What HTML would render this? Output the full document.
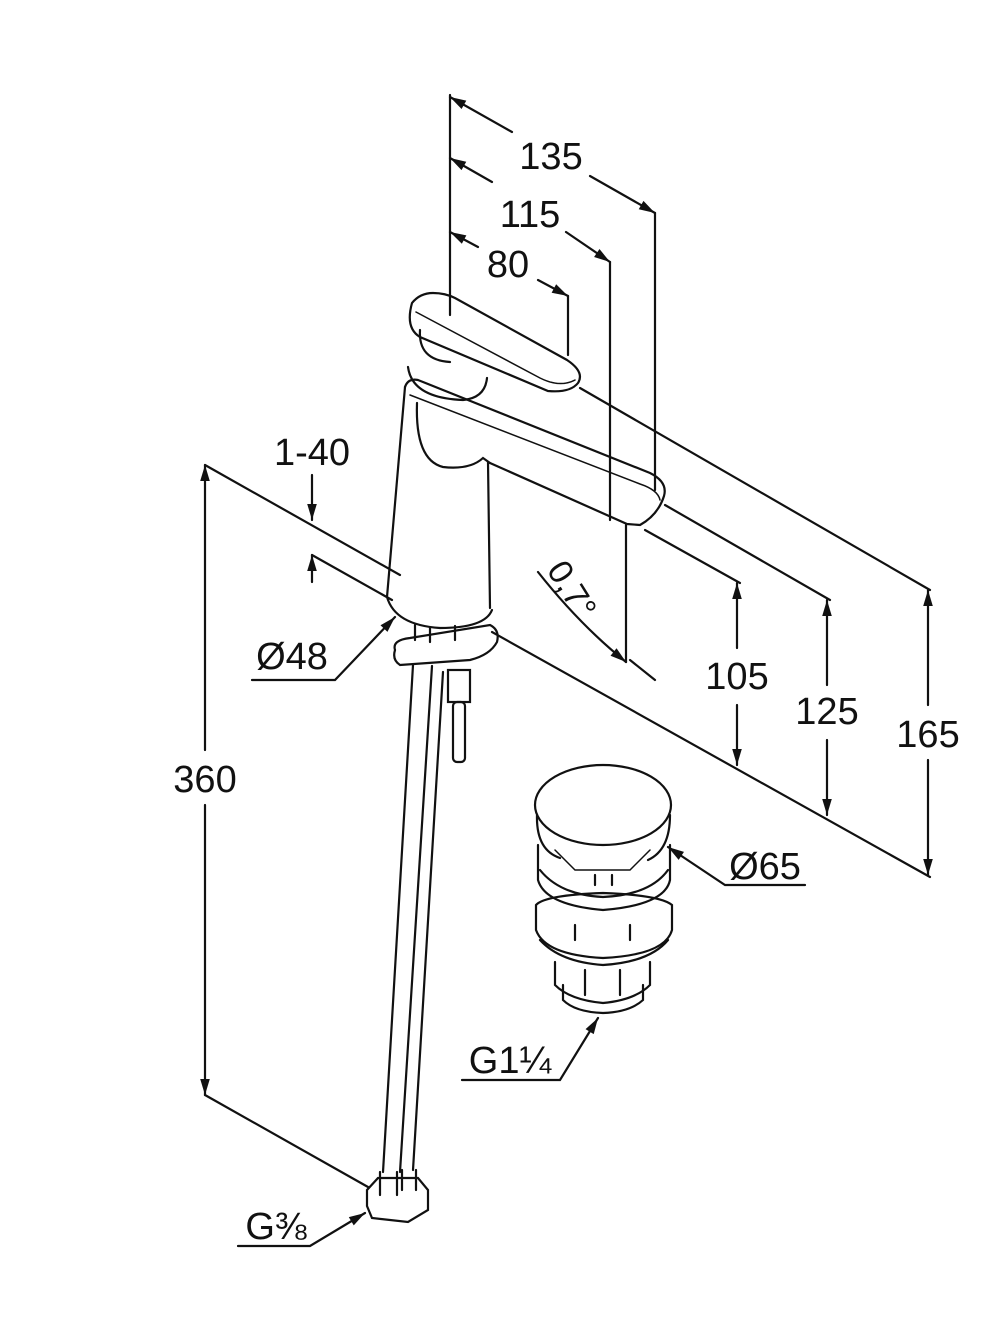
<!DOCTYPE html>
<html><head><meta charset="utf-8"><style>
html,body{margin:0;padding:0;background:#fff}
svg{display:block}
text{font-family:"Liberation Sans",sans-serif;fill:#111}
</style></head><body>
<svg width="1000" height="1333" viewBox="0 0 1000 1333" xmlns="http://www.w3.org/2000/svg">
<defs>
<marker id="b" viewBox="0 0 10 10" refX="10" refY="5" markerWidth="26" markerHeight="16" markerUnits="userSpaceOnUse" orient="auto-start-reverse"><path d="M0,2 L10,5 L0,8 Z" fill="#111"/></marker>
</defs>
<g stroke="#111" stroke-width="2.2" fill="none" stroke-linecap="round">
<line x1="450" y1="95" x2="450" y2="315"/>
<line x1="655" y1="213" x2="655" y2="490"/>
<line x1="610" y1="262" x2="610" y2="520"/>
<line x1="568" y1="296" x2="568" y2="355"/>
<line x1="626" y1="525" x2="626" y2="662"/>
<path d="M450,97 L512,132 M590,176 L655,213" marker-start="url(#b)" marker-end="url(#b)"/>
<path d="M450,158 L492,182 M566,232 L610,262" marker-start="url(#b)" marker-end="url(#b)"/>
<path d="M450,232 L478,247 M538,280 L568,296" marker-start="url(#b)" marker-end="url(#b)"/>
<line x1="580" y1="388" x2="930" y2="590"/>
<line x1="665" y1="505" x2="830" y2="600"/>
<line x1="645" y1="530" x2="740" y2="583"/>
<line x1="492" y1="632" x2="930" y2="877"/>
<line x1="630" y1="660" x2="655" y2="680"/>
<path d="M737,583 L737,648 M737,705 L737,765" marker-start="url(#b)" marker-end="url(#b)"/>
<path d="M827,600 L827,685 M827,740 L827,815" marker-start="url(#b)" marker-end="url(#b)"/>
<path d="M928,590 L928,705 M928,760 L928,875" marker-start="url(#b)" marker-end="url(#b)"/>
<path d="M538,572 Q580,625 626,662" marker-end="url(#b)"/>
<path d="M205,465 L205,750 M205,805 L205,1095" marker-start="url(#b)" marker-end="url(#b)"/>
<line x1="205" y1="465" x2="400" y2="575"/>
<line x1="205" y1="1095" x2="368" y2="1187"/>
<path d="M312,475 L312,520" marker-end="url(#b)"/>
<path d="M312,582 L312,555" marker-end="url(#b)"/>
<line x1="312" y1="555" x2="392" y2="600"/>
<path d="M252,680 L335,680 L395,617" marker-end="url(#b)"/>
<path d="M412,303 Q420,293 433,293 Q445,293 455,298 L567,360 Q585,372 578,383 Q570,393 548,391 L420,337 Q405,328 412,303 Z"/>
<path d="M416,312 L540,378 Q560,388 575,380" stroke-width="1.5"/>
<path d="M408,367 Q412,398 463,400 Q485,398 487,378"/>
<path d="M420,330 Q418,360 450,362"/>
<path d="M405,387 Q408,378 418,380 L650,473 Q668,482 664,496 Q658,515 640,525 L627,524 L490,463"/>
<path d="M410,395 L640,484 Q658,490 660,500" stroke-width="1.5"/>
<path d="M417,403 Q415,460 443,467 Q470,470 483,458 L490,463"/>
<line x1="405" y1="387" x2="387" y2="597"/>
<line x1="488" y1="462" x2="490" y2="608"/>
<path d="M387,597 Q395,625 440,628 Q485,628 492,610"/>
<path d="M395,650 Q392,640 410,638 L490,625 Q500,630 497,642 Q490,655 470,660 L400,665 Q392,660 395,650 Z"/>
<path d="M415,625 L415,640 M430,628 L430,642 M455,626 L455,640"/>
<line x1="413" y1="665" x2="383" y2="1172"/>
<line x1="432" y1="666" x2="400" y2="1172"/>
<line x1="443" y1="672" x2="413" y2="1170"/>
<rect x="448" y="670" width="22" height="32"/>
<rect x="453" y="702" width="12" height="60" rx="4"/>
<path d="M367,1190 L378,1178 L418,1178 L428,1190 L428,1210 L408,1222 L372,1218 L367,1206 Z"/>
<path d="M380,1172 L380,1195 M397,1172 L397,1195 M402,1170 L402,1190 M416,1170 L416,1190"/>
<path d="M238,1246 L310,1246 L365,1213" marker-end="url(#b)"/>
<ellipse cx="603" cy="805" rx="68" ry="40"/>
<path d="M537,815 Q536,850 560,858 M670,815 Q670,850 648,860"/>
<path d="M538,845 L538,880 Q545,905 603,910 Q665,905 670,880 L670,845"/>
<path d="M540,870 Q560,895 603,897 Q650,895 668,870"/>
<path d="M536,905 L536,930 Q545,955 603,958 Q665,955 672,930 L672,905 Q660,895 603,893 Q545,895 536,905 Z"/>
<path d="M540,940 Q560,962 603,965 Q650,962 668,940"/>
<path d="M555,962 L555,985 Q570,1000 603,1003 Q635,1000 650,985 L650,962"/>
<path d="M563,985 L563,1000 Q575,1012 603,1013 Q630,1012 643,1000 L643,985"/>
<path d="M585,970 L585,995 M620,970 L620,995"/>
<path d="M575,925 L575,940 M630,925 L630,940 M595,875 L595,885 M612,875 L612,885"/>
<path d="M555,850 L575,870 L630,870 L650,850" stroke-width="1.5"/>
<path d="M805,885 L725,885 L668,847" marker-end="url(#b)"/>
<path d="M462,1080 L560,1080 L598,1018" marker-end="url(#b)"/>
</g>
<text x="551" y="169" font-size="38" text-anchor="middle">135</text>
<text x="530" y="227" font-size="38" text-anchor="middle">115</text>
<text x="508" y="277" font-size="38" text-anchor="middle">80</text>
<text x="312" y="465" font-size="38" text-anchor="middle">1-40</text>
<text x="292" y="669" font-size="38" text-anchor="middle">Ø48</text>
<text x="205" y="792" font-size="38" text-anchor="middle">360</text>
<text x="737" y="689" font-size="38" text-anchor="middle">105</text>
<text x="827" y="724" font-size="38" text-anchor="middle">125</text>
<text x="928" y="747" font-size="38" text-anchor="middle">165</text>
<text x="765" y="879" font-size="38" text-anchor="middle">Ø65</text>
<text x="510" y="1073" font-size="38" text-anchor="middle">G1¼</text>
<text x="276" y="1239" font-size="38" text-anchor="middle">G⅜</text>
<text x="0" y="0" font-size="34" transform="translate(546,570) rotate(58)">0,7°</text>
</svg>
</body></html>
